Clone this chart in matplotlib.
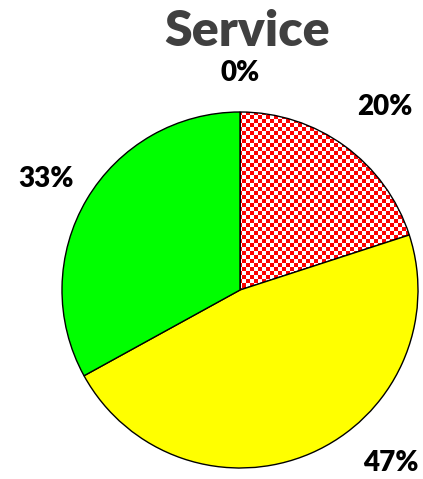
import numpy as np
import matplotlib
matplotlib.use("Agg")
import matplotlib.pyplot as plt

# --- data ---
categories = ["A", "B", "C", "D"]
values = [0, 20, 47, 33]
pct_labels = ["0%", "20%", "47%", "33%"]
colors = ["#FF0000", "#FF0000", "#FFFF00", "#00FF00"]

# label placement (angle nudge in degrees, distance in radii)
label_nudge = [0, -2.4, 17.7, 0.8]
label_dist = [1.22, 1.31, 1.29, 1.256]

fig = plt.figure(figsize=(4.23, 4.79), dpi=100)
ax = fig.add_axes([62 / 423, 11 / 479, 356 / 423, 356 / 479])

wedges, _ = ax.pie(values, startangle=90, counterclock=False, colors=colors,
                   wedgeprops=dict(edgecolor="black", linewidth=1.0))
ax.set_xlim(-1, 1)
ax.set_ylim(-1, 1)
ax.set_aspect("equal")

# checkered fill for the 20% slice
n = 89
yy, xx = np.mgrid[0:n, 0:n]
checker = ((xx + yy) % 2).astype(float)
cmap = matplotlib.colors.ListedColormap(["#FF0000", "#FFFFFF"])
im = ax.imshow(checker, extent=(-1, 1, -1, 1), cmap=cmap, interpolation="nearest",
               zorder=0.5, origin="lower")
im.set_clip_path(wedges[1])
wedges[1].set_facecolor("none")

# percentage labels
for w, lab, nud, d in zip(wedges, pct_labels, label_nudge, label_dist):
    mid = np.deg2rad((w.theta1 + w.theta2) / 2 + nud)
    ax.text(d * np.cos(mid), d * np.sin(mid), lab, ha="center", va="center",
            fontsize=20, fontweight="heavy", family="Lato", color="black",
            clip_on=False)

fig.text(247 / 423, 1 - 32 / 479, "Service", ha="center", va="center",
         fontsize=36, fontweight="heavy", family="Lato", color="#404040")

fig.savefig("out.png", dpi=100)
